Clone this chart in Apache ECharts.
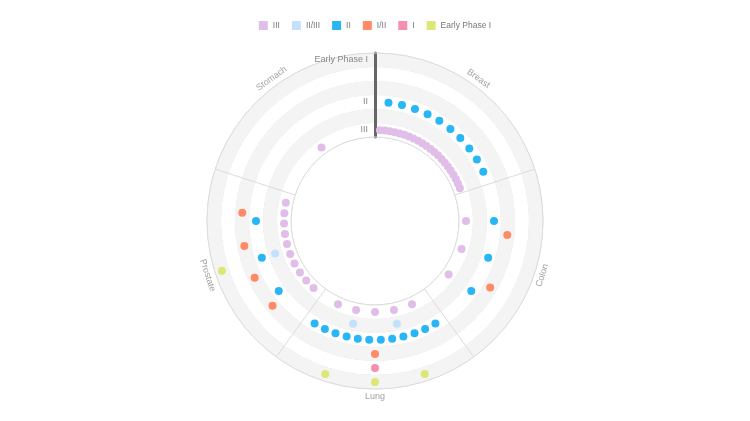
<!DOCTYPE html>
<html>
<head>
<meta charset="utf-8">
<script src="https://cdn.jsdelivr.net/npm/echarts@6/dist/echarts.min.js"></script>
<style>html,body{margin:0;padding:0;background:#fff}#c{width:750px;height:421px}</style>
</head>
<body>
<div id="c"></div>
<script>
var phases = ['III', 'II/III', 'II', 'I/II', 'I', 'Early Phase I'];
var sectors = ['Breast', 'Colon', 'Lung', 'Prostate', 'Stomach'];
var colors = ['#e1bee7', '#c3e1fa', '#29b6f6', '#ff8a65', '#f48fb1', '#dce775'];

// angle positions (degrees, clockwise from top) of each trial, per phase
var anglesIII = [3.1, 6.3, 9.4, 12.5, 15.7, 18.8, 21.9, 25.0, 28.2, 31.3, 34.4, 37.6, 40.7, 43.8, 47.0, 50.1, 53.2, 56.3, 59.5, 62.6, 65.7, 68.9,
  90, 108, 126,
  156, 168, 180, 192, 204,
  222.5, 229.1, 235.6, 242.2, 248.7, 255.3, 261.8, 268.4, 274.9, 281.5,
  324];
var anglesIIIII = [168, 192, 252];
var anglesII = [6.5, 13.1, 19.6, 26.2, 32.7, 39.3, 45.8, 52.4, 58.9, 65.5,
  90, 108, 126,
  149.5, 155.1, 160.6, 166.2, 171.7, 177.2, 182.8, 188.3, 193.8, 199.4, 204.9, 210.5,
  234, 252, 270];
var anglesIII2 = [96, 120, 180, 230.4, 244.8, 259.2, 273.6];
var anglesI = [180];
var anglesEarly = [162, 180, 198, 252];

var phaseAngles = [anglesIII, anglesIIIII, anglesII, anglesIII2, anglesI, anglesEarly];

var radiusLabelShown = ['III', 'II', 'Early Phase I'];
// tangential rotation of each sector label (degrees, counter-clockwise)
var sectorLabelRotate = [-36, 72, 0, -72, 36];

var FONT = '"Liberation Sans", Arial, sans-serif';

var series = phases.map(function (p, i) {
  return {
    name: p,
    type: 'scatter',
    coordinateSystem: 'polar',
    polarIndex: 1,
    symbolSize: 8,
    z: 5,
    itemStyle: { color: colors[i], opacity: 1 },
    data: phaseAngles[i].map(function (a) { return [i, a]; })
  };
});

series.push({
  name: 'sectorLabels',
  type: 'scatter',
  coordinateSystem: 'polar',
  polarIndex: 2,
  symbolSize: 0,
  silent: true,
  legendHoverLink: false,
  label: {
    show: true,
    position: 'inside',
    color: '#888',
    fontSize: 9,
    fontFamily: FONT,
    formatter: function (p) { return p.name; }
  },
  data: sectors.map(function (s, i) {
    return { name: s, value: [1, i * 72 + 36], label: { rotate: sectorLabelRotate[i] } };
  })
});

var chart = echarts.init(document.getElementById('c'));
chart.setOption({
  animation: false,
  color: colors,
  legend: {
    top: 16,
    left: 'center',
    icon: 'rect',
    itemWidth: 9,
    itemHeight: 9,
    itemGap: 12,
    textStyle: { color: '#777', fontSize: 8.5, fontFamily: FONT },
    data: phases
  },
  polar: [
    { center: [375, 221], radius: [84, 168] },
    { center: [375, 221], radius: [84, 168] },
    { center: [375, 221], radius: [0, 176] }
  ],
  angleAxis: [
    {
      polarIndex: 0,
      type: 'category',
      data: sectors,
      startAngle: 90,
      clockwise: true,
      boundaryGap: true,
      axisLine: { show: true, lineStyle: { color: '#dcdcdc' } },
      axisTick: { show: false },
      axisLabel: { show: false },
      splitLine: { show: true, lineStyle: { color: '#dcdcdc' } }
    },
    {
      polarIndex: 1,
      type: 'value',
      min: 0,
      max: 360,
      startAngle: 90,
      clockwise: true,
      axisLine: { show: false },
      axisTick: { show: false },
      axisLabel: { show: false },
      splitLine: { show: false }
    },
    {
      polarIndex: 2,
      type: 'value',
      min: 0,
      max: 360,
      startAngle: 90,
      clockwise: true,
      axisLine: { show: false },
      axisTick: { show: false },
      axisLabel: { show: false },
      splitLine: { show: false }
    }
  ],
  radiusAxis: [
    {
      polarIndex: 0,
      type: 'category',
      data: phases,
      boundaryGap: true,
      axisLine: { show: true, lineStyle: { color: '#666', width: 3 } },
      axisTick: { show: false },
      axisLabel: {
        color: '#888', fontSize: 9, fontFamily: FONT, margin: 7, interval: 0,
        formatter: function (val) { return radiusLabelShown.indexOf(val) >= 0 ? val : ''; }
      },
      splitLine: { show: true, interval: 0, lineStyle: { color: '#dcdcdc' } },
      splitArea: { show: true, interval: 0, areaStyle: { color: ['#ffffff', '#f4f4f4'] } }
    },
    {
      polarIndex: 1,
      type: 'category',
      data: phases,
      boundaryGap: true,
      axisLine: { show: false },
      axisTick: { show: false },
      axisLabel: { show: false },
      splitLine: { show: false }
    },
    {
      polarIndex: 2,
      type: 'value',
      min: 0,
      max: 1,
      axisLine: { show: false },
      axisTick: { show: false },
      axisLabel: { show: false },
      splitLine: { show: false }
    }
  ],
  series: series
});
</script>
</body>
</html>
